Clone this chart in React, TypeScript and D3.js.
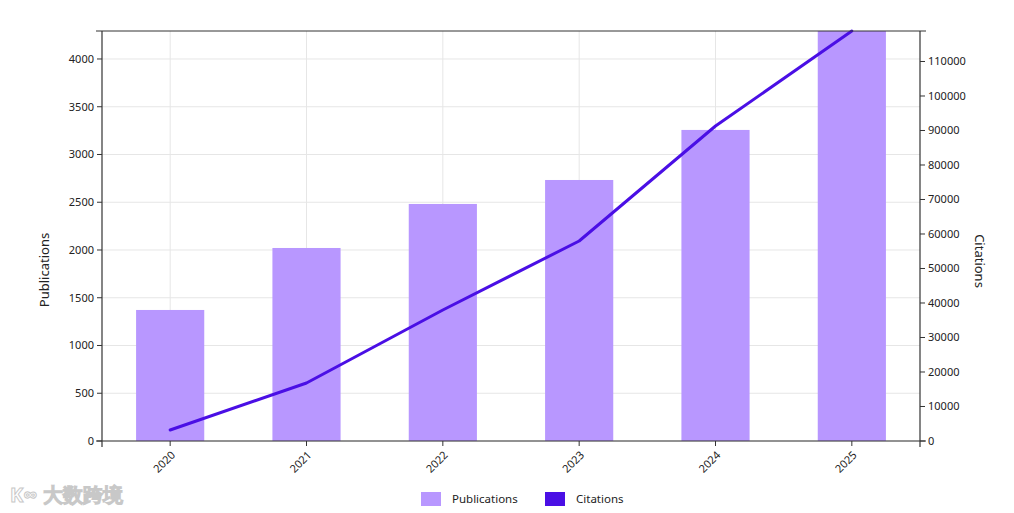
import React from "react";
import * as d3 from "d3";

const years = ["2020", "2021", "2022", "2023", "2024", "2025"];
const publications = [1372, 2021, 2482, 2733, 3257, 4293];
const citations = [3190, 16800, 37970, 57970, 91300, 118840];
const leftTicks = [0, 500, 1000, 1500, 2000, 2500, 3000, 3500, 4000];
const rightTicks = [0, 10000, 20000, 30000, 40000, 50000, 60000, 70000, 80000, 90000, 100000, 110000];

const W = 1014, H = 513;
const M = { left: 102, right: 920, top: 31, bottom: 441 };
const BAR = "#b897ff";
const LINE = "#4a0fe5";
const FONT = "'Noto Sans', 'Open Sans', sans-serif";

export default function App() {
  const x = d3.scaleBand<string>().domain(years).range([M.left, M.right]).padding(0);
  const bw = x.bandwidth() * 0.5;
  const cx = (d: string) => (x(d) as number) + x.bandwidth() / 2;
  const yL = d3.scaleLinear().domain([0, d3.max(publications) as number]).range([M.bottom, M.top]);
  const yR = d3.scaleLinear().domain([0, d3.max(citations) as number]).range([M.bottom, M.top]);
  const line = d3.line<number>().x((_, i) => cx(years[i])).y((d) => yR(d));
  const axisColor = "#333";
  const gridColor = "#e6e6e6";

  return (
    <svg width={W} height={H} style={{ position: "absolute", left: 0, top: 0, background: "#fff" }} fontFamily={FONT}>
      {/* grid */}
      {leftTicks.map((t) => (
        <line key={"gy" + t} x1={M.left} x2={M.right} y1={yL(t)} y2={yL(t)} stroke={gridColor} strokeWidth={1} />
      ))}
      {years.map((y) => (
        <line key={"gx" + y} x1={cx(y)} x2={cx(y)} y1={M.top} y2={M.bottom} stroke={gridColor} strokeWidth={1} />
      ))}
      {/* bars */}
      {years.map((y, i) => (
        <rect key={"b" + y} x={cx(y) - bw / 2} width={bw} y={yL(publications[i])} height={M.bottom - yL(publications[i])} fill={BAR} />
      ))}
      {/* line */}
      <path d={line(citations) as string} fill="none" stroke={LINE} strokeWidth={3} strokeLinejoin="round" strokeLinecap="round" />
      {/* frame */}
      <line x1={M.left - 6} x2={M.right + 6} y1={M.top} y2={M.top} stroke={axisColor} strokeWidth={1} />
      <line x1={M.left} x2={M.left} y1={M.top} y2={M.bottom + 6} stroke={axisColor} strokeWidth={1.2} />
      <line x1={M.right} x2={M.right} y1={M.top} y2={M.bottom + 6} stroke={axisColor} strokeWidth={1.2} />
      <line x1={M.left - 6} x2={M.right + 6} y1={M.bottom} y2={M.bottom} stroke={axisColor} strokeWidth={1.2} />
      {/* left ticks */}
      {leftTicks.map((t) => (
        <g key={"lt" + t} transform={`translate(${M.left},${yL(t)})`}>
          <line x1={-5} x2={0} stroke={axisColor} />
          <text x={-8} dy="0.35em" textAnchor="end" fontSize={11} fill="#222">{t}</text>
        </g>
      ))}
      {/* right ticks */}
      {rightTicks.map((t) => (
        <g key={"rt" + t} transform={`translate(${M.right},${yR(t)})`}>
          <line x1={0} x2={5} stroke={axisColor} />
          <text x={8} dy="0.35em" textAnchor="start" fontSize={11} fill="#222">{t}</text>
        </g>
      ))}
      {/* x ticks */}
      {years.map((y) => (
        <g key={"xt" + y} transform={`translate(${cx(y)},${M.bottom})`}>
          <line y1={0} y2={5} stroke={axisColor} />
          <text transform="translate(3,12) rotate(-45)" textAnchor="end" dy="0.35em" fontSize={11} fill="#222">{y}</text>
        </g>
      ))}
      {/* axis titles */}
      <text transform={`translate(49,270) rotate(-90)`} textAnchor="middle" fontSize={13} fill="#222">Publications</text>
      <text transform={`translate(975,261) rotate(90)`} textAnchor="middle" fontSize={13} fill="#222">Citations</text>
      {/* legend */}
      <rect x={421} y={492} width={20} height={14} fill={BAR} />
      <text x={452} y={499} dy="0.35em" fontSize={11.5} fill="#222">Publications</text>
      <rect x={545} y={492} width={20} height={14} fill={LINE} />
      <text x={576} y={499} dy="0.35em" fontSize={11.5} fill="#222">Citations</text>
      {/* watermark */}
      <text x={10} y={502} fontSize={20} fontWeight="bold" fill="#fff" stroke="#c8c8c8" strokeWidth={1}>K∞ 大数跨境</text>
    </svg>
  );
}
